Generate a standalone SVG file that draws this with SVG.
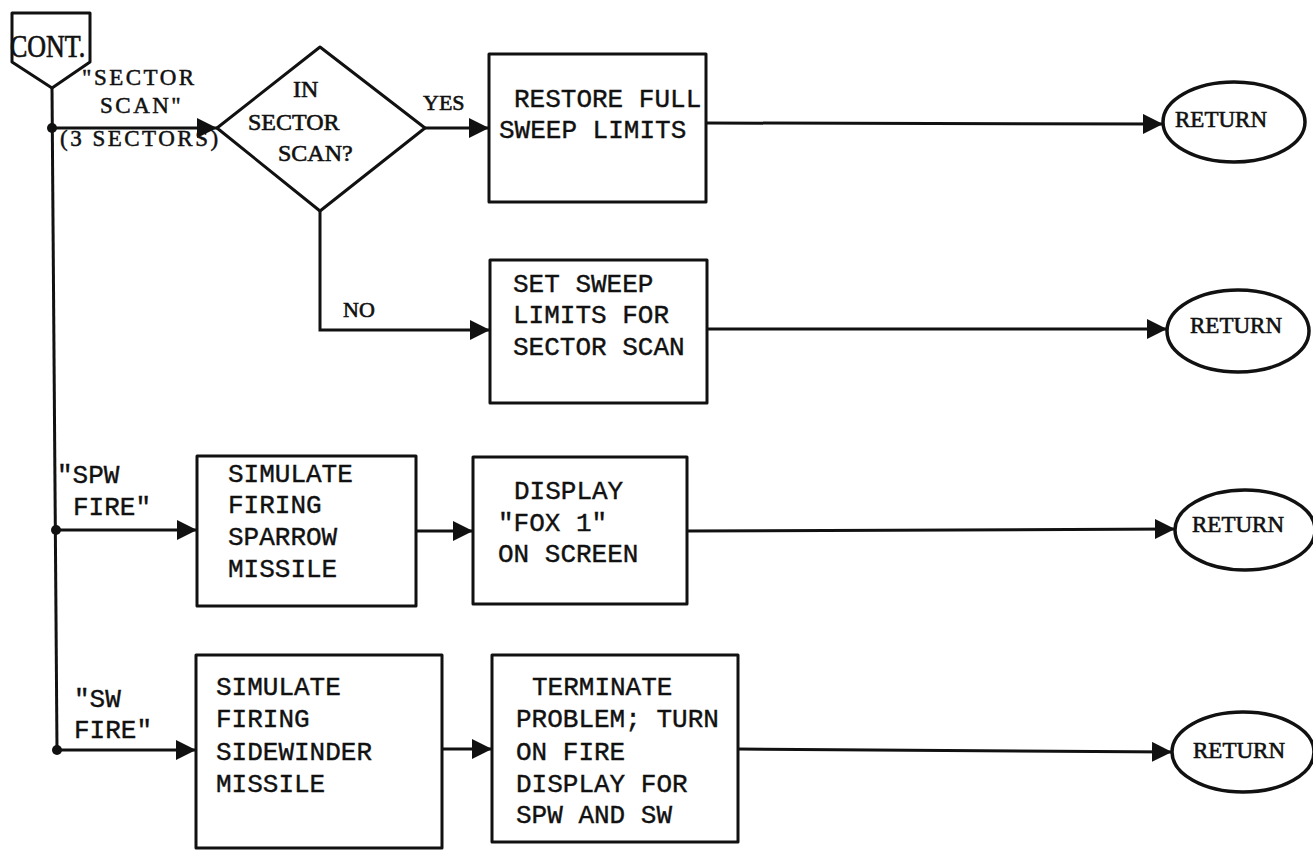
<svg xmlns="http://www.w3.org/2000/svg" width="1313" height="851" viewBox="0 0 1313 851">
<style>
.shape{fill:#fff;stroke:#111;stroke-width:3;stroke-linejoin:round}
.oval{fill:#fff;stroke:#111;stroke-width:3.5}
.ln{fill:none;stroke:#111;stroke-width:3;marker-end:url(#ah)}
.ln0{fill:none;stroke:#111;stroke-width:3}
.mono{font-family:"Liberation Mono","DejaVu Sans Mono",monospace;font-size:26px;fill:#111;stroke:#111;stroke-width:0.4}
.ser{font-family:"Liberation Serif","DejaVu Serif",serif;font-size:23px;fill:#111;stroke:#111;stroke-width:0.6}
.lbl{font-family:"Liberation Serif","DejaVu Serif",serif;font-size:23px;fill:#111;stroke:#111;stroke-width:0.5;letter-spacing:2.5px}
</style>
<defs>
<marker id="ah" markerUnits="userSpaceOnUse" markerWidth="22" markerHeight="22" refX="20" refY="10" orient="auto">
<path d="M0,0 L20,10 L0,20 z" fill="#111"/>
</marker>
</defs>
<rect width="1313" height="851" fill="#fff"/>

<g id="connectors">
<path class="ln0" d="M52,88 L57,750"/>
<circle cx="52" cy="128" r="5" fill="#111"/>
<circle cx="56" cy="530" r="5" fill="#111"/>
<circle cx="57" cy="750" r="5" fill="#111"/>
<path class="ln" d="M52,128 L217,128"/>
<path class="ln" d="M425,128 L489,128"/>
<path class="ln" d="M706,123 L1163,124"/>
<path class="ln" d="M320,211 L320,330 L490,330"/>
<path class="ln" d="M707,329 L1167,329"/>
<path class="ln" d="M56,530 L197,530"/>
<path class="ln" d="M416,531 L473,531"/>
<path class="ln" d="M687,531 L1175,529"/>
<path class="ln" d="M57,750 L196,750"/>
<path class="ln" d="M442,749 L492,749"/>
<path class="ln" d="M738,749 L1172,752"/>
<text class="lbl" x="82" y="85">"SECTOR</text>
<text class="lbl" x="100" y="113">SCAN"</text>
<text class="lbl" x="60" y="146">(3 SECTORS)</text>
<text class="ser" x="423" y="110" style="font-size:22px">YES</text>
<text class="ser" x="343" y="317" style="font-size:22px">NO</text>
<text class="mono" x="57" y="483">"SPW</text>
<text class="mono" x="73" y="515">FIRE"</text>
<text class="mono" x="74" y="707">"SW</text>
<text class="mono" x="74" y="738">FIRE"</text>
</g>

<g id="cont">
<path class="shape" d="M12,13 L90,13 L90,62 L52,88 L12,62 Z"/>
<text class="ser" x="10" y="57" style="font-size:26px" transform="translate(0,-11.4) scale(1,1.2)">CONT.</text>
</g>

<g id="decision">
<path class="shape" d="M320,47 L425,128 L320,211 L217,128 Z"/>
<text class="ser" x="293" y="97" style="font-size:24px">IN</text>
<text class="ser" x="248" y="130" style="font-size:24px">SECTOR</text>
<text class="ser" x="278" y="161" style="font-size:24px">SCAN?</text>
</g>

<g id="restore">
<rect class="shape" x="489" y="54" width="217" height="148"/>
<text class="mono" x="514" y="107">RESTORE FULL</text>
<text class="mono" x="499" y="138">SWEEP LIMITS</text>
</g>

<g id="setsweep">
<rect class="shape" x="490" y="260" width="217" height="143"/>
<text class="mono" x="513" y="292">SET SWEEP</text>
<text class="mono" x="513" y="323">LIMITS FOR</text>
<text class="mono" x="513" y="355">SECTOR SCAN</text>
</g>

<g id="sim-sparrow">
<rect class="shape" x="197" y="456" width="219" height="150"/>
<text class="mono" x="228" y="482">SIMULATE</text>
<text class="mono" x="228" y="513">FIRING</text>
<text class="mono" x="228" y="545">SPARROW</text>
<text class="mono" x="228" y="577">MISSILE</text>
</g>

<g id="display-fox">
<rect class="shape" x="473" y="457" width="214" height="147"/>
<text class="mono" x="514" y="499">DISPLAY</text>
<text class="mono" x="498" y="531">"FOX 1"</text>
<text class="mono" x="498" y="562">ON SCREEN</text>
</g>

<g id="sim-sidewinder">
<rect class="shape" x="196" y="655" width="246" height="193"/>
<text class="mono" x="216" y="695">SIMULATE</text>
<text class="mono" x="216" y="727">FIRING</text>
<text class="mono" x="216" y="760">SIDEWINDER</text>
<text class="mono" x="216" y="792">MISSILE</text>
</g>

<g id="terminate">
<rect class="shape" x="492" y="655" width="246" height="187"/>
<text class="mono" x="532" y="695">TERMINATE</text>
<text class="mono" x="516" y="727">PROBLEM; TURN</text>
<text class="mono" x="516" y="760">ON FIRE</text>
<text class="mono" x="516" y="792">DISPLAY FOR</text>
<text class="mono" x="516" y="823">SPW AND SW</text>
</g>

<g id="return1">
<ellipse class="oval" cx="1234" cy="122" rx="71" ry="40"/>
<text class="ser" x="1175" y="127">RETURN</text>
</g>
<g id="return2">
<ellipse class="oval" cx="1238" cy="331" rx="71" ry="41"/>
<text class="ser" x="1190" y="333">RETURN</text>
</g>
<g id="return3">
<ellipse class="oval" cx="1245" cy="530" rx="70" ry="40"/>
<text class="ser" x="1192" y="532">RETURN</text>
</g>
<g id="return4">
<ellipse class="oval" cx="1243" cy="752" rx="71" ry="40"/>
<text class="ser" x="1193" y="758">RETURN</text>
</g>
</svg>
